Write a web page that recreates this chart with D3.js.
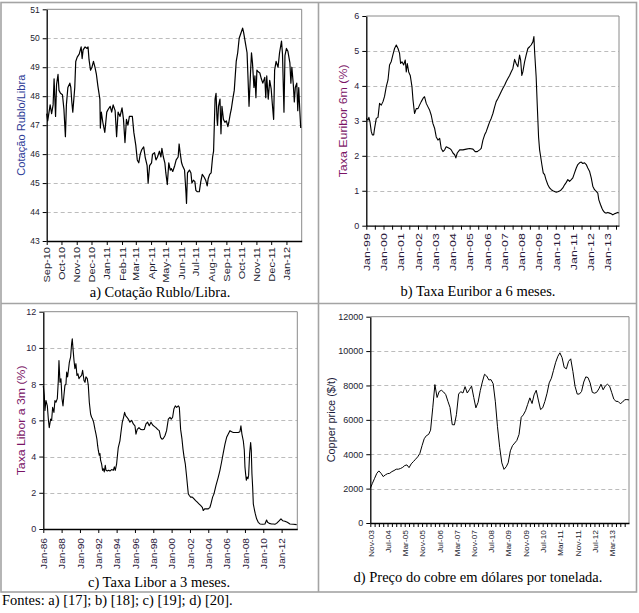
<!DOCTYPE html>
<html><head><meta charset="utf-8">
<script src="https://cdn.jsdelivr.net/npm/d3@7"></script>
<style>body{margin:0;background:#fff}svg{display:block}</style>
</head><body>
<svg id="c" width="639" height="613"></svg>
<script>
// ---------- DATA ----------
const rubloDates = [
"2010-09-01","2010-09-03","2010-09-08","2010-09-11","2010-09-14","2010-09-16","2010-09-19","2010-09-21","2010-09-24","2010-09-26","2010-09-29",
"2010-10-03","2010-10-06","2010-10-09","2010-10-11","2010-10-14","2010-10-18","2010-10-20","2010-10-22","2010-10-24","2010-10-28","2010-10-30",
"2010-11-02","2010-11-06","2010-11-10","2010-11-12","2010-11-14","2010-11-18","2010-11-22","2010-11-24","2010-11-26","2010-11-29",
"2010-12-02","2010-12-05","2010-12-08","2010-12-11","2010-12-14","2010-12-18","2010-12-19","2010-12-21","2010-12-24","2010-12-28",
"2011-01-01","2011-01-04","2011-01-08","2011-01-11","2011-01-14","2011-01-18","2011-01-21","2011-01-24","2011-01-28",
"2011-02-01","2011-02-04","2011-02-07","2011-02-10","2011-02-13","2011-02-16","2011-02-19","2011-02-22","2011-02-25",
"2011-03-01","2011-03-04","2011-03-07","2011-03-10","2011-03-13","2011-03-17","2011-03-20","2011-03-24","2011-03-26","2011-03-29",
"2011-04-02","2011-04-04","2011-04-08","2011-04-11","2011-04-14","2011-04-18","2011-04-21","2011-04-23","2011-04-26","2011-04-29",
"2011-05-01","2011-05-04","2011-05-07","2011-05-10","2011-05-12","2011-05-15","2011-05-19","2011-05-22","2011-05-26","2011-05-28","2011-05-30",
"2011-06-02","2011-06-04","2011-06-08","2011-06-11","2011-06-12","2011-06-14","2011-06-18","2011-06-21","2011-06-23","2011-06-26","2011-06-29",
"2011-07-01","2011-07-04","2011-07-08","2011-07-11","2011-07-14","2011-07-18","2011-07-21","2011-07-24","2011-07-26","2011-07-29",
"2011-08-01","2011-08-04","2011-08-06","2011-08-09","2011-08-11","2011-08-13","2011-08-14","2011-08-16","2011-08-19","2011-08-21","2011-08-23","2011-08-26","2011-08-29",
"2011-09-01","2011-09-04","2011-09-06","2011-09-09","2011-09-11","2011-09-14","2011-09-17","2011-09-21","2011-09-24","2011-09-27",
"2011-10-01","2011-10-04","2011-10-06","2011-10-10","2011-10-13","2011-10-15","2011-10-17","2011-10-20","2011-10-22","2011-10-24","2011-10-27","2011-10-29","2011-10-31",
"2011-11-02","2011-11-04","2011-11-08","2011-11-11","2011-11-14","2011-11-18","2011-11-20","2011-11-22","2011-11-25","2011-11-28",
"2011-12-01","2011-12-03","2011-12-06","2011-12-08","2011-12-11","2011-12-15","2011-12-18","2011-12-22","2011-12-24","2011-12-27","2011-12-29",
"2012-01-01","2012-01-04","2012-01-08","2012-01-10","2012-01-12","2012-01-15","2012-01-17","2012-01-19","2012-01-22","2012-01-24","2012-01-26","2012-01-28","2012-01-30"];
const rubloValues = [
47.4,47.15,47.7,47.4,47.7,48.6,47.3,48.4,48.75,48.2,48.1,
48.05,47.55,46.6,47.7,48.3,48.45,48.3,47.8,47.45,48.3,49.2,
49.35,49.45,49.7,49.3,49.6,49.7,49.65,49.7,49.26,48.9,
49.0,49.2,49.0,48.75,48.35,47.9,46.9,47.45,47.1,46.75,
47.45,47.55,47.65,47.45,47.7,47.5,46.6,47.45,47.3,
47.6,47.2,46.4,47.2,47.0,47.3,47.3,47.3,46.75,
46.3,45.8,45.7,46.0,46.15,46.25,45.9,45.6,45.0,45.6,
45.7,46.0,46.05,45.8,45.9,46.1,45.9,46.2,45.9,45.7,
45.35,44.95,45.7,45.45,45.5,45.4,45.6,45.8,45.9,46.35,46.05,
45.7,45.6,45.45,44.65,44.3,45.35,45.45,45.35,45.0,45.1,45.05,
44.75,44.7,44.7,45.05,45.3,45.2,45.1,44.9,45.15,45.3,
45.35,45.9,46.1,47.9,48.1,47.2,47.0,47.65,47.9,46.7,47.65,47.2,47.1,
47.15,46.95,47.1,47.4,47.55,47.9,48.2,49.2,49.5,50.0,
50.2,50.35,50.2,49.8,49.5,48.6,47.65,48.8,49.5,49.15,48.3,48.7,47.95,
48.9,48.85,48.8,48.6,48.45,48.65,47.95,48.7,47.9,48.55,
48.25,47.8,47.2,48.9,49.2,49.0,49.5,49.9,49.45,47.45,49.4,
49.65,49.55,49.15,48.45,49.0,48.4,47.8,48.3,48.45,47.5,48.3,47.55,46.9];
const rubloTickLabels = ["Sep-10","Oct-10","Nov-10","Dec-10","Jan-11","Feb-11","Mar-11","Apr-11","May-11","Jun-11","Jul-11","Aug-11","Sep-11","Oct-11","Nov-11","Dec-11","Jan-12"];

const euriborYears = [1999.00,1999.10,1999.15,1999.21,1999.29,1999.35,1999.43,1999.48,1999.58,1999.68,1999.77,1999.87,1999.97,
2000.06,2000.16,2000.26,2000.35,2000.45,2000.55,2000.64,2000.74,2000.84,2000.93,2000.99,
2001.07,2001.17,2001.26,2001.32,2001.38,2001.46,2001.55,2001.65,2001.71,2001.80,2001.90,
2002.00,2002.09,2002.19,2002.29,2002.38,2002.48,2002.58,2002.68,2002.77,2002.87,2002.97,
2003.06,2003.16,2003.26,2003.35,2003.45,2003.55,2003.64,2003.84,2003.93,
2004.03,2004.13,2004.20,2004.28,2004.42,2004.61,2004.80,
2005.00,2005.19,2005.32,2005.44,2005.58,2005.67,2005.77,2005.87,2005.96,
2006.06,2006.16,2006.25,2006.35,2006.45,2006.54,2006.64,2006.74,2006.83,2006.93,
2007.03,2007.12,2007.22,2007.32,2007.41,2007.51,2007.61,2007.70,2007.80,2007.90,2007.96,
2008.03,2008.09,2008.19,2008.28,2008.38,2008.48,2008.57,2008.67,2008.73,2008.77,2008.86,2008.92,2008.96,
2009.00,2009.06,2009.12,2009.19,2009.27,2009.35,2009.43,2009.54,2009.64,2009.74,2009.83,2009.93,
2010.03,2010.12,2010.22,2010.32,2010.41,2010.51,2010.61,2010.70,2010.80,2010.90,2010.99,
2011.09,2011.19,2011.28,2011.38,2011.48,2011.57,2011.67,2011.77,2011.86,2011.96,
2012.06,2012.15,2012.25,2012.35,2012.44,2012.50,2012.60,2012.68,2012.75,2012.83,2012.93,
2013.02,2013.12,2013.22,2013.31,2013.41,2013.51,2013.60,2013.66];
const euriborValues = [3.07,3.02,3.10,2.98,2.69,2.60,2.60,2.78,3.07,3.10,3.50,3.45,3.55,
3.70,3.98,4.17,4.60,4.70,4.90,5.07,5.17,5.07,4.93,4.64,
4.69,4.60,4.74,4.40,4.64,4.40,4.30,3.98,3.60,3.21,3.35,
3.35,3.45,3.55,3.64,3.69,3.50,3.40,3.30,3.16,2.92,2.78,
2.54,2.45,2.50,2.21,2.12,2.17,2.26,2.21,2.17,
2.08,2.03,1.94,2.08,2.17,2.17,2.19,
2.21,2.19,2.12,2.12,2.17,2.21,2.45,2.60,2.69,
2.83,2.97,3.07,3.21,3.40,3.55,3.64,3.74,3.83,3.93,
4.02,4.12,4.21,4.30,4.40,4.50,4.76,4.64,4.55,4.88,4.74,
4.30,4.40,4.69,4.88,5.07,5.12,5.17,5.26,5.41,4.98,4.26,3.50,3.02,
2.54,2.17,1.98,1.75,1.51,1.46,1.32,1.17,1.08,1.03,1.00,0.98,
0.96,0.97,0.99,1.03,1.08,1.17,1.24,1.32,1.27,1.32,1.37,
1.51,1.65,1.75,1.80,1.82,1.78,1.80,1.75,1.65,1.56,
1.37,1.13,1.03,0.98,0.93,0.74,0.60,0.50,0.43,0.38,0.36,
0.38,0.36,0.34,0.31,0.34,0.36,0.38,0.36];
const euriborTickLabels = ["Jan-99","Jan-00","Jan-01","Jan-02","Jan-03","Jan-04","Jan-05","Jan-06","Jan-07","Jan-08","Jan-09","Jan-10","Jan-11","Jan-12","Jan-13"];

const liborYears = [1986.00,1986.11,1986.18,1986.29,1986.44,1986.55,1986.65,1986.80,1986.91,
1987.02,1987.16,1987.27,1987.38,1987.53,1987.64,1987.71,1987.82,1987.93,
1988.04,1988.15,1988.25,1988.36,1988.47,1988.55,1988.65,1988.76,1988.84,1988.98,
1989.09,1989.16,1989.24,1989.35,1989.45,1989.56,1989.67,1989.78,1989.89,
1990.00,1990.18,1990.29,1990.44,1990.55,1990.65,1990.80,1990.91,
1991.02,1991.16,1991.27,1991.38,1991.49,1991.64,1991.75,1991.85,1991.93,
1992.00,1992.11,1992.18,1992.25,1992.36,1992.47,1992.55,1992.65,1992.76,1992.84,1992.98,
1993.13,1993.27,1993.45,1993.64,1993.75,1993.85,
1994.00,1994.11,1994.18,1994.36,1994.47,1994.62,1994.76,1994.87,1994.98,
1995.13,1995.27,1995.45,1995.64,1995.82,
1996.00,1996.11,1996.25,1996.44,1996.62,1996.84,
1997.02,1997.20,1997.38,1997.56,1997.75,1997.93,
1998.11,1998.29,1998.47,1998.65,1998.80,1998.95,
1999.09,1999.27,1999.45,1999.64,1999.82,1999.96,
2000.11,2000.25,2000.40,2000.55,2000.73,2000.84,2000.98,
2001.13,2001.24,2001.35,2001.49,2001.64,2001.71,2001.82,2001.93,
2002.07,2002.25,2002.44,2002.62,2002.80,2002.98,
2003.16,2003.35,2003.45,2003.60,2003.82,
2004.00,2004.18,2004.29,2004.47,2004.62,2004.84,
2005.09,2005.27,2005.45,2005.64,2005.82,
2006.00,2006.18,2006.36,2006.55,2006.73,2006.91,
2007.09,2007.27,2007.45,2007.56,2007.67,2007.82,2007.93,
2008.00,2008.07,2008.15,2008.22,2008.33,2008.40,2008.51,2008.62,2008.69,2008.76,2008.84,2008.91,2008.98,
2009.05,2009.13,2009.27,2009.45,2009.64,2009.93,
2010.18,2010.36,2010.47,2010.65,2010.91,
2011.09,2011.27,2011.45,2011.75,2011.93,
2012.11,2012.36,2012.62,2012.91,2013.27,2013.64];
const liborValues = [7.9,7.37,6.54,7.1,6.8,6.07,5.6,6.07,6.0,
6.72,6.44,7.1,7.0,7.2,8.2,9.3,8.1,8.3,
7.2,6.8,7.37,7.93,8.0,8.67,8.4,8.85,9.2,9.5,
10.24,10.5,9.96,9.3,8.85,9.13,8.48,8.57,8.3,
8.39,8.48,8.76,8.2,8.1,8.4,8.3,7.93,
7.0,6.35,6.17,6.07,5.9,5.5,5.24,4.96,4.6,
4.35,4.07,4.17,3.8,3.6,3.24,3.33,3.15,3.52,3.24,3.2,
3.24,3.2,3.28,3.24,3.43,3.24,
3.6,4.17,4.5,4.87,5.33,5.9,6.17,6.44,6.26,
6.17,6.07,5.9,6.0,5.8,
5.7,5.24,5.5,5.6,5.5,5.48,
5.5,5.8,5.9,5.7,5.9,5.74,
5.67,5.6,5.5,5.43,5.06,4.96,
5.0,5.15,5.43,6.07,6.17,6.07,
6.17,6.63,6.8,6.72,6.8,6.72,5.5,
4.96,4.41,4.0,3.6,2.87,2.5,1.94,1.85,
1.76,1.76,1.67,1.57,1.48,1.39,
1.3,1.2,1.02,1.11,1.11,
1.11,1.2,1.39,1.76,1.94,2.41,
2.87,3.24,3.7,4.22,4.69,
5.06,5.24,5.43,5.37,5.33,5.33,
5.33,5.33,5.37,5.7,5.24,4.87,4.35,
3.43,3.06,2.69,2.87,2.78,2.96,4.17,4.78,4.35,3.06,2.31,1.39,1.2,
1.02,0.83,0.56,0.37,0.28,0.26,
0.28,0.5,0.37,0.31,0.28,
0.28,0.26,0.31,0.46,0.56,
0.46,0.43,0.37,0.28,0.26,0.24];
const liborTickLabels = ["Jan-86","Jan-88","Jan-90","Jan-92","Jan-94","Jan-96","Jan-98","Jan-00","Jan-02","Jan-04","Jan-06","Jan-08","Jan-10","Jan-12"];

const copperStartMonth = "2003-11";
const copperValues = [2020,2310,2600,2890,3030,2890,2700,2800,2870,2890,2990,3050,
3130,3130,3170,3240,3340,3380,3220,3440,3570,3710,3850,4050,
4500,4900,5080,5150,5400,6700,8050,7300,7650,7720,7620,7470,
7080,6720,5720,5710,6300,7500,7640,7560,7930,7560,7760,7960,
7300,6700,7020,7700,8200,8650,8550,8320,8340,8100,7050,5600,
4400,3500,3120,3270,3500,4200,4500,4650,4800,5150,6150,6290,
6530,6900,7280,6950,7450,7720,7150,6600,6700,7070,7550,8150,
8420,8880,9350,9700,9900,9620,9050,8970,9400,9550,8810,7950,
7500,7500,7650,8200,8500,8460,8150,7600,7550,7600,7800,8070,
7750,7970,8070,7950,7600,7200,7080,7070,6940,7030,7170,7180,7160];
const copperTickLabels = ["Nov-03","Jul-04","Mar-05","Nov-05","Jul-06","Mar-07","Nov-07","Jul-08","Mar-09","Nov-09","Jul-10","Mar-11","Nov-11","Jul-12","Mar-13"];

const captions = ["a) Cotação Rublo/Libra.","b) Taxa Euribor a 6 meses.","c) Taxa Libor a 3 meses.","d) Preço do cobre em dólares por tonelada."];
const yTitles = ["Cotação Rublo/Libra","Taxa Euribor 6m (%)","Taxa Libor a 3m (%)","Copper price ($/t)"];
const footnote = "Fontes: a) [17]; b) [18]; c) [19]; d) [20].";

// ---------- HELPERS ----------
const parseDay = d3.timeParse("%Y-%m-%d");
function fromDecimalYear(t){
  const y = Math.floor(t), s = new Date(y,0,1), e = new Date(y+1,0,1);
  return new Date(+s + (t-y)*(e-s));
}
const svg = d3.select("#c");
const SANS = "'Liberation Sans', Arial, sans-serif";
const SERIF = "'Liberation Serif', 'Times New Roman', serif";

// table borders
const border = svg.append("g").attr("stroke","#a4a4a4").attr("stroke-width",1.6).attr("fill","none");
border.append("rect").attr("x",1).attr("y",2.5).attr("width",635.5).attr("height",589.5);
border.append("line").attr("x1",318.5).attr("x2",318.5).attr("y1",2.5).attr("y2",592);
border.append("line").attr("x1",1).attr("x2",636.5).attr("y1",303.5).attr("y2",303.5);

function panel(cfg){
  const x = d3.scaleTime().domain(cfg.xDomain).range([cfg.left, cfg.right]);
  const y = d3.scaleLinear().domain(cfg.yDomain).range([cfg.bottom, cfg.top]);
  const g = svg.append("g");
  g.append("g").selectAll("line").data(cfg.yTicks.slice(1,-1)).join("line")
    .attr("x1",cfg.left).attr("x2",cfg.right)
    .attr("y1",d=>Math.round(y(d))+0.5).attr("y2",d=>Math.round(y(d))+0.5)
    .attr("stroke","#bcbcbc").attr("stroke-dasharray","4,3");
  g.append("path").attr("d",`M${cfg.left},${cfg.top}H${cfg.right}V${cfg.bottom}`)
    .attr("fill","none").attr("stroke","#8a8a8a").attr("stroke-width",1);
  g.append("path").datum(cfg.points)
    .attr("d", d3.line().x(d=>x(d[0])).y(d=>y(d[1])))
    .attr("fill","none").attr("stroke","#000").attr("stroke-width",cfg.lw).attr("stroke-linejoin","round");
  const ya = g.append("g").attr("transform",`translate(${cfg.left},0)`)
    .call(d3.axisLeft(y).tickValues(cfg.yTicks).tickSize(4).tickSizeOuter(0).tickPadding(3).tickFormat(d3.format("d")));
  ya.select(".domain").attr("stroke","#000").attr("stroke-width",1.3);
  ya.selectAll(".tick line").attr("stroke","#000");
  ya.selectAll("text").attr("font-family",SANS).attr("font-size",cfg.yfs).attr("fill",cfg.tickColor);
  const xa = g.append("g").attr("transform",`translate(0,${cfg.bottom})`)
    .call(d3.axisBottom(x).tickValues(cfg.xTicks).tickSize(4).tickSizeOuter(0).tickFormat(cfg.xLabel));
  xa.select(".domain").attr("stroke","#000").attr("stroke-width",1.3);
  xa.selectAll(".tick line").attr("stroke","#000");
  xa.selectAll("text")
    .attr("font-family",SANS).attr("font-size",cfg.xfs).attr("fill",cfg.tickColor)
    .attr("text-anchor","end").attr("x",0).attr("y",0).attr("dy","0.35em")
    .attr("transform",`translate(0,${cfg.xgap}) rotate(-90) scale(${cfg.xsx},1)`);
  g.append("text").attr("transform",`translate(${cfg.titleX},${(cfg.top+cfg.bottom)/2}) rotate(-90)`)
    .attr("text-anchor","middle").attr("dy","0.35em")
    .attr("font-family",SANS).attr("font-size",cfg.tfs).attr("fill",cfg.titleColor)
    .attr("textLength",cfg.titleLen).attr("lengthAdjust","spacingAndGlyphs")
    .text(cfg.title);
  g.append("text").attr("x",cfg.capX).attr("y",cfg.capY).attr("text-anchor","middle")
    .attr("font-family",SERIF).attr("font-size",14.5).attr("fill","#000").text(cfg.caption);
}

const aTicks = d3.timeMonth.range(new Date(2010,8,1), new Date(2012,1,1));
panel({
  points: rubloDates.map((d,i)=>[parseDay(d), rubloValues[i]]),
  xDomain:[new Date(2010,8,1), new Date(2012,1,1)], yDomain:[43,51], yTicks:d3.range(43,52,1),
  left:46.7, right:301.7, top:9.3, bottom:241, lw:1.2,
  xTicks:aTicks, xLabel:(d,i)=>rubloTickLabels[i],
  xfs:8.8, xsx:1.25, xgap:6, yfs:8.5, tickColor:"#1b1b2e",
  title:yTitles[0], titleX:21.5, tfs:11, titleLen:101, titleColor:"#2b3a96",
  caption:captions[0], capX:160, capY:297
});
const bTicks = d3.timeMonth.every(6).range(new Date(1999,0,1), new Date(2013,8,1));
panel({
  points: euriborYears.map((t,i)=>[fromDecimalYear(t), euriborValues[i]]),
  xDomain:[new Date(1999,0,1), fromDecimalYear(2013.67)], yDomain:[0,6], yTicks:d3.range(0,7,1),
  left:366.3, right:619, top:16, bottom:225.7, lw:1.1,
  xTicks:bTicks, xLabel:(d,i)=> i%2===0 ? euriborTickLabels[i/2] : "",
  xfs:9.2, xsx:1.35, xgap:7.5, yfs:9, tickColor:"#2a1a3a",
  title:yTitles[1], titleX:343, tfs:11, titleLen:113, titleColor:"#7a1466",
  caption:captions[1], capX:478, capY:295.5
});
const cTicks = d3.timeYear.every(2).range(new Date(1986,0,1), new Date(2013,1,1));
panel({
  points: liborYears.map((t,i)=>[fromDecimalYear(t), liborValues[i]]),
  xDomain:[new Date(1986,0,1), fromDecimalYear(2013.71)], yDomain:[0,12], yTicks:d3.range(0,13,2),
  left:43.3, right:297.3, top:311.7, bottom:529, lw:1.1,
  xTicks:cTicks, xLabel:(d,i)=>liborTickLabels[i],
  xfs:9.2, xsx:1.1, xgap:9, yfs:9, tickColor:"#2a1a3a",
  title:yTitles[2], titleX:21, tfs:11, titleLen:110, titleColor:"#7a1466",
  caption:captions[2], capX:159, capY:587
});
const dStart = d3.timeParse("%Y-%m")(copperStartMonth);
const dTicks = d3.timeMonth.every(1).range(dStart, new Date(2013,10,1)).filter((d,i)=>i%2===0);
panel({
  points: copperValues.map((v,i)=>[d3.timeMonth.offset(dStart,i), v]),
  xDomain:[dStart, new Date(2013,10,1)], yDomain:[0,12000], yTicks:d3.range(0,12001,2000),
  left:370.3, right:629, top:316.7, bottom:523, lw:1.0,
  xTicks:dTicks, xLabel:(d,i)=> i%4===0 ? copperTickLabels[i/4] : "",
  xfs:8, xsx:1.05, xgap:7, yfs:9, tickColor:"#1b1b2e",
  title:yTitles[3], titleX:331.5, tfs:10, titleLen:85, titleColor:"#1c1c3a",
  caption:captions[3], capX:478, capY:581.5
});

svg.append("text").attr("x",2).attr("y",605).attr("font-family",SERIF).attr("font-size",14.5).attr("fill","#000").text(footnote);
</script>
</body></html>
